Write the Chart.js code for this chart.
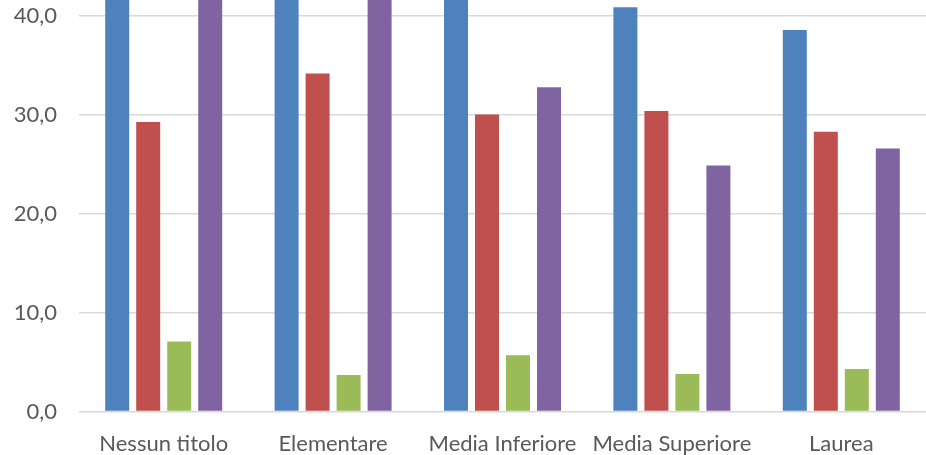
<!DOCTYPE html>
<html><head><meta charset="utf-8">
<script src="https://cdn.jsdelivr.net/npm/chart.js@4/dist/chart.umd.min.js"></script>
<style>
html,body{margin:0;padding:0;background:#fff;overflow:hidden;width:926px;height:455px;}
#wrap{position:absolute;left:0;top:-118px;width:926px;height:586px;}
</style></head><body>
<div id="wrap"><canvas id="c"></canvas></div>
<script>
const categories = ["Nessun titolo","Elementare","Media Inferiore","Media Superiore","Laurea"];
const serie1 = [47.0, 45.5, 43.5, 40.9, 38.6];
const serie2 = [29.3, 34.2, 30.05, 30.4, 28.3];
const serie3 = [7.1, 3.7, 5.7, 3.8, 4.3];
const serie4 = [46.0, 44.0, 32.8, 24.9, 26.6];
const colors = ["#4F81BD","#C0504D","#9BBB59","#8064A2"];
const yMax = 50, yStep = 10;

const ds = [serie1, serie2, serie3, serie4].map((d,i)=>({
  label: "Serie " + (i+1), data: d, backgroundColor: colors[i],
  categoryPercentage: 0.732, barPercentage: 0.774
}));
new Chart(document.getElementById('c'), {
  type: 'bar',
  data: { labels: categories, datasets: ds },
  options: {
    responsive: true, maintainAspectRatio: false, animation: false,
    layout: { padding: { left: 0, right: 0, top: 0, bottom: 0 } },
    plugins: { legend: { display: false }, tooltip: { enabled: false } },
    scales: {
      x: {
        grid: { display: false }, border: { display: false },
        ticks: { color: '#595959', font: { family: 'Lato', size: 22 }, padding: 11, maxRotation: 0, autoSkip: false }
      },
      y: {
        min: 0, max: yMax,
        grid: { color: '#D9D9D9', lineWidth: 1.5, drawTicks: false }, border: { display: false },
        ticks: { stepSize: yStep, color: '#595959', font: { family: 'Lato', size: 22 }, padding: 22,
          callback: v => v.toFixed(1).replace('.', ',') },
        afterFit: s => { s.width = 79; }
      }
    }
  }
});
</script></body></html>
